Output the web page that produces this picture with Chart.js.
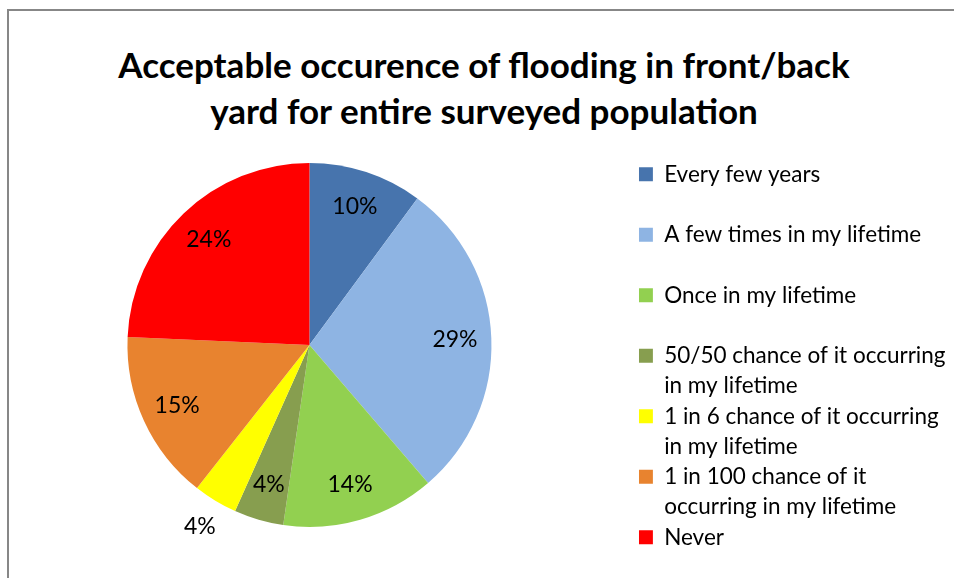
<!DOCTYPE html>
<html>
<head>
<meta charset="utf-8">
<script src="https://cdn.jsdelivr.net/npm/chart.js@4"></script>
<style>
  html, body { margin: 0; padding: 0; background: #fff; overflow: hidden; }
  .frame {
    position: absolute; left: 7px; top: 9px; right: -20px; bottom: -20px;
    border-top: 2px solid #878787; border-left: 2px solid #878787;
  }
  .title {
    position: absolute; left: 0; top: 41px; width: 968px;
    text-align: center; font: bold 35px/46px Lato, sans-serif; color: #000;
  }
  /* canvas starts a little left of the window so the pie sits where it should */
  .chart-box { position: absolute; left: -20px; top: 0; width: 978px; height: 578px; }
</style>
</head>
<body>
<div class="frame"></div>
<div class="title">Acceptable occurence of flooding in front/back<br>yard for entire surveyed population</div>
<div class="chart-box"><canvas id="pieChart"></canvas></div>
<script>
// Legend entries, one array per entry (one string per legend line).
// Single line entries get an empty second line so every entry takes two rows.
const categories = [
  ['Every few years', ''],
  ['A few times in my lifetime', ''],
  ['Once in my lifetime', ''],
  ['50/50 chance of it occurring', 'in my lifetime'],
  ['1 in 6 chance of it occurring', 'in my lifetime'],
  ['1 in 100 chance of it', 'occurring in my lifetime'],
  ['Never']
];

// Share of respondents (%)
const shares = [10.1, 28.6, 13.6, 4.4, 3.9, 15.1, 24.3];

const sliceColors = ['#4774AD', '#8EB4E3', '#92D050', '#879E4F', '#FFFF00', '#E8832F', '#FF0000'];

const FONT = 'Lato, sans-serif';

// Percent labels on the slices (Excel "best fit": inside if it fits, else outside)
const percentLabels = {
  id: 'percentLabels',
  afterDatasetsDraw(chart) {
    const ctx = chart.ctx;
    const meta = chart.getDatasetMeta(0);
    ctx.save();
    ctx.font = '23px ' + FONT;
    ctx.fillStyle = '#000';
    ctx.textAlign = 'center';
    ctx.textBaseline = 'middle';
    meta.data.forEach((arc, i) => {
      const { x, y, startAngle, endAngle, outerRadius } = arc.getProps(['x', 'y', 'startAngle', 'endAngle', 'outerRadius'], true);
      const text = Math.round(shares[i]) + '%';
      const mid = (startAngle + endAngle) / 2;
      let d = outerRadius * 0.8;
      const chord = 2 * d * Math.sin((endAngle - startAngle) / 2);
      if (chord < ctx.measureText(text).width + 8) d = outerRadius + 30;
      ctx.fillText(text, x + Math.cos(mid) * d, y + Math.sin(mid) * d);
    });
    ctx.restore();
  }
};

new Chart(document.getElementById('pieChart'), {
  type: 'pie',
  data: {
    labels: categories,
    datasets: [{
      data: shares,
      backgroundColor: sliceColors,
      borderWidth: 0,
      radius: 182
    }]
  },
  options: {
    responsive: true,
    maintainAspectRatio: false,
    animation: false,
    layout: { padding: { left: 0, right: 2.5, top: 133.75, bottom: 21.75 } },
    plugins: {
      tooltip: { enabled: false },
      legend: {
        position: 'right',
        align: 'end',
        labels: {
          boxWidth: 14,
          boxHeight: 14,
          padding: 0,
          color: '#000',
          font: { family: FONT, size: 22.5, lineHeight: '30.25px' }
        }
      }
    }
  },
  plugins: [percentLabels]
});
</script>
</body>
</html>
